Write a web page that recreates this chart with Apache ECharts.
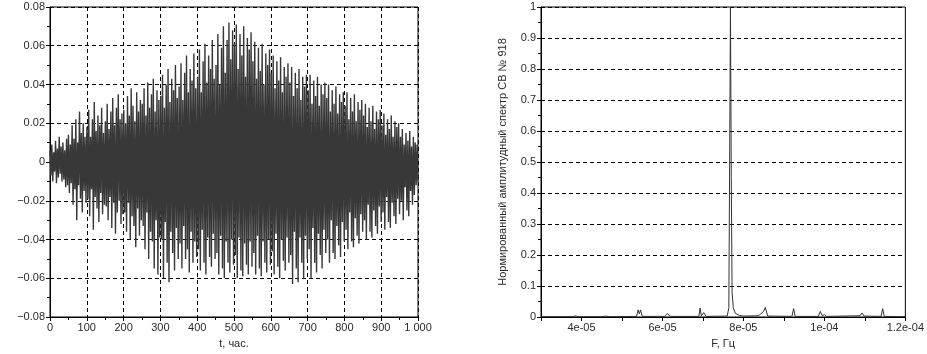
<!DOCTYPE html>
<html>
<head>
<meta charset="utf-8">
<script src="https://cdn.jsdelivr.net/npm/echarts@6/dist/echarts.min.js"></script>
<style>
  html, body { margin: 0; padding: 0; background: #fff; }
  #chart { width: 927px; height: 354px; }
</style>
</head>
<body>
<div id="chart"></div>
<script>
// left panel: signal peaks (upper) and troughs (lower), 0..1000 h
const upperPeaks = [
  0.006, 0.009, 0.005, 0.011, 0.007, 0.013, 0.008, 0.010, 0.006, 0.012,
  0.014, 0.009, 0.019, 0.012, 0.022, 0.010, 0.026, 0.015, 0.020, 0.013,
  0.018, 0.027, 0.013, 0.022, 0.031, 0.016, 0.024, 0.019, 0.028, 0.015,
  0.021, 0.030, 0.017, 0.026, 0.033, 0.019, 0.028, 0.035, 0.022, 0.025,
  0.027, 0.020, 0.034, 0.024, 0.038, 0.029, 0.021, 0.036, 0.026, 0.032,
  0.030, 0.038, 0.024, 0.041, 0.028, 0.035, 0.043, 0.026, 0.037, 0.032,
  0.034, 0.045, 0.028, 0.040, 0.048, 0.031, 0.043, 0.037, 0.050, 0.033,
  0.039, 0.051, 0.032, 0.046, 0.055, 0.036, 0.048, 0.042, 0.056, 0.038,
  0.044, 0.058, 0.036, 0.052, 0.061, 0.041, 0.055, 0.048, 0.063, 0.043,
  0.050, 0.066, 0.040, 0.059, 0.070, 0.046, 0.063, 0.072, 0.053, 0.068,
  0.061, 0.071, 0.048, 0.066, 0.055, 0.070, 0.044, 0.064, 0.058, 0.067,
  0.052, 0.062, 0.043, 0.059, 0.047, 0.061, 0.040, 0.056, 0.050, 0.058,
  0.046, 0.055, 0.038, 0.052, 0.042, 0.054, 0.036, 0.049, 0.044, 0.051,
  0.041, 0.049, 0.034, 0.046, 0.038, 0.048, 0.032, 0.044, 0.039, 0.045,
  0.037, 0.045, 0.030, 0.042, 0.034, 0.044, 0.029, 0.040, 0.035, 0.041,
  0.033, 0.040, 0.026, 0.037, 0.030, 0.039, 0.025, 0.035, 0.031, 0.036,
  0.029, 0.036, 0.022, 0.033, 0.026, 0.035, 0.021, 0.031, 0.027, 0.032,
  0.024, 0.030, 0.018, 0.028, 0.021, 0.029, 0.017, 0.026, 0.022, 0.027,
  0.019, 0.025, 0.014, 0.022, 0.017, 0.024, 0.013, 0.021, 0.018, 0.020,
  0.013, 0.017, 0.009, 0.015, 0.011, 0.016, 0.008, 0.013, 0.010, 0.009
];
const lowerPeaks = [
  -0.007, -0.010, -0.005, -0.011, -0.008, -0.006, -0.010, -0.009, -0.013, -0.012,
  -0.016, -0.011, -0.022, -0.014, -0.030, -0.012, -0.019, -0.026, -0.015, -0.021,
  -0.019, -0.028, -0.014, -0.035, -0.018, -0.024, -0.031, -0.016, -0.027, -0.022,
  -0.023, -0.030, -0.018, -0.034, -0.021, -0.037, -0.026, -0.020, -0.032, -0.027,
  -0.026, -0.036, -0.021, -0.040, -0.028, -0.033, -0.044, -0.024, -0.038, -0.030,
  -0.033, -0.045, -0.026, -0.050, -0.036, -0.041, -0.055, -0.030, -0.058, -0.039,
  -0.040, -0.060, -0.031, -0.052, -0.062, -0.036, -0.047, -0.056, -0.034, -0.050,
  -0.042, -0.055, -0.033, -0.050, -0.045, -0.057, -0.036, -0.052, -0.041, -0.049,
  -0.045, -0.056, -0.035, -0.052, -0.058, -0.039, -0.049, -0.054, -0.037, -0.050,
  -0.047, -0.058, -0.038, -0.055, -0.060, -0.041, -0.052, -0.057, -0.040, -0.053,
  -0.048, -0.060, -0.039, -0.056, -0.059, -0.042, -0.053, -0.058, -0.041, -0.054,
  -0.047, -0.058, -0.038, -0.055, -0.059, -0.041, -0.052, -0.057, -0.040, -0.053,
  -0.046, -0.058, -0.037, -0.054, -0.060, -0.040, -0.051, -0.056, -0.039, -0.052,
  -0.048, -0.063, -0.036, -0.055, -0.062, -0.039, -0.052, -0.060, -0.038, -0.050,
  -0.045, -0.060, -0.034, -0.052, -0.057, -0.037, -0.048, -0.055, -0.035, -0.047,
  -0.040, -0.052, -0.030, -0.047, -0.050, -0.033, -0.043, -0.049, -0.031, -0.041,
  -0.035, -0.045, -0.026, -0.041, -0.044, -0.029, -0.038, -0.042, -0.027, -0.036,
  -0.030, -0.040, -0.022, -0.036, -0.039, -0.025, -0.033, -0.037, -0.023, -0.031,
  -0.026, -0.035, -0.018, -0.031, -0.034, -0.021, -0.028, -0.032, -0.019, -0.027,
  -0.020, -0.030, -0.013, -0.025, -0.028, -0.015, -0.022, -0.017, -0.012, -0.010
];
const tStart = 0;
const tEnd = 1000;

// right panel: normalised amplitude spectrum
const specFreq = [
  3.0e-5, 3.8e-5, 3.85e-5, 3.9e-5, 4.5e-5, 4.6e-5, 4.7e-5,
  5.36e-5, 5.40e-5, 5.43e-5, 5.46e-5, 5.50e-5, 6.05e-5, 6.12e-5, 6.2e-5,
  6.9e-5, 6.93e-5, 6.96e-5, 7.02e-5, 7.08e-5,
  7.6e-5, 7.64e-5, 7.66e-5, 7.68e-5, 7.70e-5, 7.72e-5, 7.75e-5, 7.8e-5, 7.9e-5, 8.0e-5,
  8.38e-5, 8.44e-5, 8.5e-5, 8.54e-5, 8.6e-5, 9.2e-5, 9.24e-5, 9.28e-5,
  9.85e-5, 9.9e-5, 9.95e-5, 1.0e-4, 1.005e-4, 1.088e-4, 1.093e-4, 1.098e-4,
  1.14e-4, 1.144e-4, 1.148e-4, 1.2e-4
];
const specAmp = [
  0.001, 0.001, 0.004, 0.001, 0.001, 0.003, 0.001,
  0.002, 0.023, 0.010, 0.023, 0.002, 0.002, 0.011, 0.002,
  0.002, 0.029, 0.004, 0.014, 0.002,
  0.003, 0.03, 0.5, 1.0, 0.45, 0.08, 0.03, 0.012, 0.005, 0.003,
  0.004, 0.012, 0.018, 0.031, 0.003, 0.002, 0.027, 0.002,
  0.002, 0.018, 0.004, 0.008, 0.002, 0.004, 0.013, 0.003,
  0.002, 0.027, 0.002, 0.001
];
const freqGridLines = [4e-5, 6e-5, 8e-5, 1e-4];
const freqTickLabels = { 4: '4e-05', 6: '6e-05', 8: '8e-05', 10: '1e-04', 12: '1.2e-04' };

const leftTitleX = 't, час.';
const rightTitleX = 'F, Гц';
const rightTitleY = 'Нормированный амплитудный спектр СВ № 918';

// interleave peaks and troughs along the time axis
const nPts = upperPeaks.length * 2;
const signal = [];
for (let k = 0; k < nPts; k++) {
  const t = tStart + (tEnd - tStart) * k / (nPts - 1);
  const v = k % 2 === 0 ? upperPeaks[k >> 1] : lowerPeaks[k >> 1];
  signal.push([t, v]);
}
const spectrum = specFreq.map((f, i) => [f, specAmp[i]]);

const font = 'Liberation Sans, Arial, sans-serif';
const textColor = '#2a2a2a';
const dashed = { color: '#000', type: [4, 3], width: 1 };

const baseAxis = {
  axisLine: { onZero: false, lineStyle: { color: '#000', width: 1 } },
  axisTick: { length: 4, lineStyle: { color: '#000' } },
  minorTick: { show: true, splitNumber: 2, length: 3, lineStyle: { color: '#000' } },
  axisLabel: { color: textColor, fontFamily: font, fontSize: 11, margin: 5 },
  nameTextStyle: { color: textColor, fontFamily: font, fontSize: 11 },
  splitLine: { show: true, lineStyle: dashed }
};

const fmtSigned = (v) => {
  if (Math.abs(v) < 1e-9) return '0';
  return v.toFixed(2).replace('-', '\u2212');
};

const chart = echarts.init(document.getElementById('chart'), null, { renderer: 'canvas' });

chart.setOption({
  animation: false,
  backgroundColor: '#fff',
  grid: [
    { left: 50, right: 509, top: 7, bottom: 35, show: true, borderColor: '#000', borderWidth: 1 },
    { left: 541, right: 17, top: 7, bottom: 35, show: true, borderColor: '#000', borderWidth: 1 }
  ],
  xAxis: [
    Object.assign({}, baseAxis, {
      type: 'value', gridIndex: 0, min: 0, max: 1000, interval: 100,
      name: leftTitleX, nameLocation: 'middle', nameGap: 21,
      axisLabel: Object.assign({}, baseAxis.axisLabel, {
        formatter: (v) => v === 1000 ? '1 000' : String(v)
      })
    }),
    Object.assign({}, baseAxis, {
      type: 'value', gridIndex: 1, min: 3e-5, max: 1.2e-4, interval: 1e-5,
      name: rightTitleX, nameLocation: 'middle', nameGap: 21,
      minorTick: { show: false },
      splitLine: { show: false },
      axisLabel: Object.assign({}, baseAxis.axisLabel, {
        showMinLabel: true, showMaxLabel: true,
        formatter: (v) => freqTickLabels[Math.round(v * 1e5)] || ''
      })
    })
  ],
  yAxis: [
    Object.assign({}, baseAxis, {
      type: 'value', gridIndex: 0, min: -0.08, max: 0.08, interval: 0.02,
      axisLabel: Object.assign({}, baseAxis.axisLabel, { formatter: fmtSigned })
    }),
    Object.assign({}, baseAxis, {
      type: 'value', gridIndex: 1, min: 0, max: 1, interval: 0.1,
      name: rightTitleY, nameLocation: 'middle', nameGap: 33, nameRotate: 90,
      axisLabel: Object.assign({}, baseAxis.axisLabel, {
        formatter: (v) => (Math.round(v * 10) / 10).toString()
      })
    })
  ],
  series: [
    {
      type: 'line', xAxisIndex: 0, yAxisIndex: 0,
      data: signal, symbol: 'none', silent: true,
      lineStyle: { color: '#383838', width: 1.4 }
    },
    {
      type: 'line', xAxisIndex: 1, yAxisIndex: 1,
      data: spectrum, symbol: 'none', silent: true,
      lineStyle: { color: '#333', width: 1 },
      markLine: {
        silent: true, symbol: 'none', label: { show: false },
        lineStyle: dashed,
        data: freqGridLines.map((f) => ({ xAxis: f }))
      }
    }
  ]
});
</script>
</body>
</html>
